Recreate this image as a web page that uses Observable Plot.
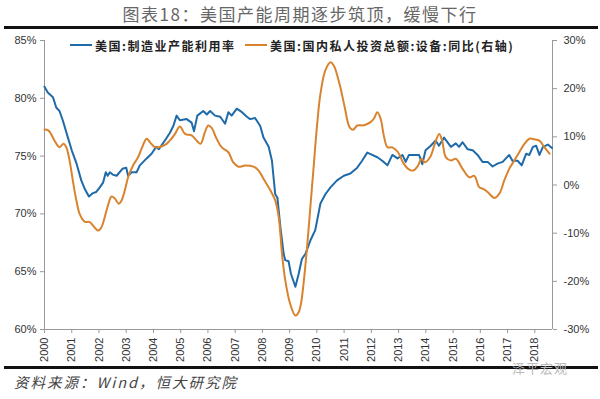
<!DOCTYPE html>
<html><head><meta charset="utf-8">
<script src="https://cdn.jsdelivr.net/npm/d3@7"></script>
<script src="https://cdn.jsdelivr.net/npm/@observablehq/plot@0.6"></script>
<style>
body{margin:0;background:#fff;}
#wrap{position:relative;width:600px;height:399px;overflow:hidden;font-family:"Noto Sans CJK SC","Noto Sans",sans-serif;background:#fff;}
#title{position:absolute;top:3px;left:0;width:600px;text-align:center;font-size:17px;color:#666;letter-spacing:1.5px;line-height:22px;white-space:nowrap;}
.hr{position:absolute;left:4px;width:594px;height:2.5px;background:#111;}
#chart{position:absolute;top:30px;left:0;}
.leg{position:absolute;top:37px;height:16px;display:flex;align-items:center;font-size:12px;font-weight:bold;color:#222;letter-spacing:1.5px;white-space:nowrap;}
.sw{display:inline-block;width:22px;height:2px;margin-right:3px;}
#footer{position:absolute;top:371px;left:14px;font-size:14.5px;font-style:italic;color:#444;letter-spacing:2px;white-space:nowrap;}
#wm{position:absolute;top:358px;left:512px;font-size:13px;color:#bbb;letter-spacing:1px;white-space:nowrap;}
</style></head>
<body><div id="wrap">
<div id="title">图表18：美国产能周期逐步筑顶，缓慢下行</div>
<div class="hr" style="top:26px"></div>
<div id="chart"></div>
<div class="leg" style="left:70px"><span class="sw" id="sw1"></span><span id="lg1"></span></div>
<div class="leg" style="left:245px"><span class="sw" id="sw2"></span><span id="lg2"></span></div>
<div class="hr" style="top:366px"></div>
<div id="wm">泽平宏观</div>
<div id="footer">资料来源：Wind，恒大研究院</div>
</div>
<script>
const seriesNames = ["美国:制造业产能利用率", "美国:国内私人投资总额:设备:同比(右轴)"];
const colors = ["#1f6aa8", "#d9832e"];
const years = d3.range(2000, 2019);
const leftTicks = [60, 65, 70, 75, 80, 85];
const rightTicks = [-30, -20, -10, 0, 10, 20, 30];
const xDomain = [2000, 2018.65];
const yDomain = [60, 85];
const rightDomain = [-30, 30];

// 制造业产能利用率 (%), left axis
const blueYears = [2000.00,2000.12,2000.31,2000.43,2000.55,2000.67,2000.86,2001.00,2001.17,2001.35,2001.47,2001.63,2001.78,2001.90,2002.03,2002.15,2002.25,2002.32,2002.40,2002.50,2002.65,2002.86,2003.00,2003.07,2003.20,2003.38,2003.50,2003.75,2003.93,2004.10,2004.20,2004.42,2004.60,2004.73,2004.85,2004.97,2005.22,2005.40,2005.49,2005.61,2005.83,2005.96,2006.08,2006.26,2006.45,2006.63,2006.75,2006.87,2007.06,2007.25,2007.43,2007.55,2007.73,2007.92,2008.04,2008.23,2008.35,2008.47,2008.55,2008.66,2008.78,2008.84,2008.96,2009.05,2009.21,2009.33,2009.45,2009.58,2009.76,2009.94,2010.13,2010.31,2010.50,2010.74,2010.99,2011.23,2011.48,2011.66,2011.85,2012.03,2012.22,2012.40,2012.59,2012.77,2012.96,2013.14,2013.26,2013.38,2013.57,2013.75,2013.87,2013.99,2014.18,2014.36,2014.48,2014.67,2014.92,2015.10,2015.22,2015.35,2015.53,2015.72,2015.90,2016.08,2016.27,2016.45,2016.63,2016.82,2016.94,2017.06,2017.18,2017.37,2017.52,2017.68,2017.80,2017.93,2018.05,2018.17,2018.30,2018.48,2018.63];
const blueValues = [81.0,80.5,80.1,79.2,78.9,78.1,76.6,75.5,74.4,72.9,72.2,71.5,71.8,71.9,72.3,72.7,73.6,73.3,73.6,73.4,73.3,73.9,74.0,73.3,73.6,73.6,74.2,74.8,75.2,75.8,75.6,76.35,77.0,77.6,78.5,78.1,78.2,77.9,77.15,78.5,78.9,78.6,78.9,78.5,78.4,77.8,78.8,78.5,79.1,78.8,78.4,78.2,78.3,77.6,76.6,75.8,74.6,71.7,71.4,68.85,66.55,66.0,65.9,64.8,63.7,64.8,66.1,66.55,67.7,68.6,70.9,71.7,72.3,72.9,73.3,73.5,74.0,74.6,75.3,75.1,74.9,74.6,74.2,75.1,74.8,75.1,74.5,75.1,75.1,75.1,74.3,75.5,75.9,76.35,75.9,76.6,75.8,76.1,75.8,76.2,75.6,75.5,75.1,74.5,74.5,74.1,74.35,74.5,74.8,75.1,74.6,74.6,74.2,75.2,75.1,75.8,75.9,75.1,75.8,76.0,75.7];

// 国内私人投资总额:设备:同比 (%), right axis
const orangeYears = [2000.00,2000.15,2000.37,2000.55,2000.70,2000.80,2000.92,2001.04,2001.17,2001.29,2001.47,2001.66,2001.78,2001.97,2002.09,2002.21,2002.33,2002.46,2002.58,2002.73,2002.83,2002.95,2003.07,2003.25,2003.44,2003.56,2003.75,2003.87,2004.05,2004.23,2004.48,2004.66,2004.79,2004.97,2005.16,2005.40,2005.59,2005.73,2005.89,2006.01,2006.13,2006.32,2006.50,2006.75,2006.93,2007.12,2007.37,2007.67,2007.86,2008.04,2008.29,2008.47,2008.60,2008.72,2008.84,2009.02,2009.21,2009.33,2009.42,2009.51,2009.64,2009.76,2009.88,2010.00,2010.13,2010.31,2010.50,2010.62,2010.83,2011.02,2011.20,2011.33,2011.48,2011.73,2011.97,2012.09,2012.22,2012.34,2012.47,2012.59,2012.77,2012.98,2013.16,2013.35,2013.53,2013.71,2013.84,2013.96,2014.16,2014.33,2014.49,2014.60,2014.73,2014.92,2015.10,2015.35,2015.59,2015.78,2015.96,2016.14,2016.33,2016.51,2016.70,2016.88,2017.06,2017.25,2017.43,2017.62,2017.80,2017.98,2018.17,2018.35,2018.54];
const orangeValues = [11.5,11.3,9.2,7.85,8.55,7.85,5.1,0.9,-3.2,-6.0,-7.6,-7.7,-8.4,-9.45,-8.75,-6.7,-4.25,-2.4,-2.8,-3.9,-3.2,-1.1,1.6,4.05,5.8,7.5,9.6,8.9,7.85,7.9,8.55,9.6,10.6,12.15,10.6,10.3,9.2,8.55,10.96,12.35,11.9,9.6,7.85,6.8,4.7,3.8,4.05,3.8,3.0,1.3,-1.1,-3.2,-6.7,-14.3,-19.8,-24.7,-27.1,-26.4,-24.5,-20.5,-12.9,-4.6,3.7,12.0,18.9,23.8,25.5,24.8,21.0,16.2,12.0,11.46,12.35,12.4,13.05,13.75,15.1,13.75,9.9,7.85,7.8,6.8,4.7,3.35,3.0,4.0,5.45,4.7,5.8,8.55,10.6,9.2,5.8,5.1,5.45,3.35,1.6,1.9,-0.45,-0.9,-1.8,-2.7,-1.8,0.94,3.35,5.1,6.8,8.55,9.6,9.5,9.2,7.85,6.5];

const toLeft = v => yDomain[0] + (v - rightDomain[0]) * (yDomain[1] - yDomain[0]) / (rightDomain[1] - rightDomain[0]);
const fromLeft = d => Math.round(rightDomain[0] + (d - yDomain[0]) * (rightDomain[1] - rightDomain[0]) / (yDomain[1] - yDomain[0]));

const blue = blueYears.map((x, i) => ({x, y: blueValues[i]}));
const orange = orangeYears.map((x, i) => ({x, y: toLeft(orangeValues[i])}));

const plot = Plot.plot({
  width: 600, height: 335,
  marginTop: 10, marginBottom: 36, marginLeft: 44, marginRight: 48,
  x: {domain: xDomain},
  y: {domain: yDomain},
  style: {fontFamily: "'Liberation Sans', Arial, sans-serif", fontSize: "11px", color: "#333", background: "white", overflow: "visible"},
  marks: [
    Plot.ruleX([xDomain[0]], {stroke: "#999", strokeWidth: 1}),
    Plot.ruleX([xDomain[1]], {stroke: "#999", strokeWidth: 1}),
    Plot.ruleY([yDomain[0]], {stroke: "#999", strokeWidth: 1}),
    Plot.axisY(leftTicks, {anchor: "left", tickSize: 4, tickPadding: 4, stroke: "#999", fill: "#333", tickFormat: d => d + "%", label: null}),
    Plot.axisY(rightTicks.map(toLeft), {anchor: "right", tickSize: 4, tickPadding: 7, stroke: "#999", fill: "#333", tickFormat: d => fromLeft(d) + "%", label: null}),
    Plot.axisX(years, {anchor: "bottom", tickSize: 4, tickPadding: 4, tickRotate: -90, stroke: "#999", fill: "#333", tickFormat: d => String(d), label: null}),
    Plot.line(blue, {x: "x", y: "y", stroke: colors[0], strokeWidth: 2}),
    Plot.line(orange, {x: "x", y: "y", stroke: colors[1], strokeWidth: 2, curve: "catmull-rom"})
  ]
});
document.getElementById("chart").appendChild(plot);
document.getElementById("lg1").textContent = seriesNames[0];
document.getElementById("lg2").textContent = seriesNames[1];
document.getElementById("sw1").style.background = colors[0];
document.getElementById("sw2").style.background = colors[1];
</script>
</body></html>
